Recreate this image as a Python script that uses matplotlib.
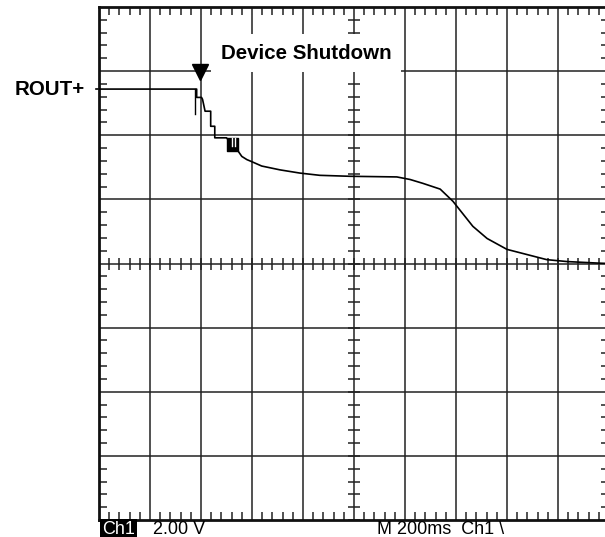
import matplotlib.pyplot as plt
import numpy as np

# Scope trace (divisions: x 0..10, y -4..4, centre line at 0)
trace_x = [0, 1.915, 1.915, 2.01, 2.03, 2.08, 2.19, 2.19, 2.27, 2.27, 2.50,
           2.73, 2.80, 2.90, 2.99, 3.19, 3.55, 3.94, 4.33, 4.92, 5.84,
           6.10, 6.35, 6.69, 6.94, 7.14, 7.33, 7.61, 8.00, 8.39, 8.78,
           9.18, 9.82, 10.0]
trace_y = [2.72, 2.72, 2.59, 2.59, 2.56, 2.375, 2.375, 2.14, 2.14, 1.96, 1.96,
           1.75, 1.67, 1.62, 1.59, 1.52, 1.46, 1.41, 1.375, 1.36, 1.35,
           1.31, 1.25, 1.16, 0.97, 0.77, 0.58, 0.39, 0.22, 0.14, 0.06,
           0.03, 0.005, 0.0]

# glitch spike and noisy burst
spike_x = [1.88, 1.88]
spike_y = [2.72, 2.33]
burst_x = [2.50, 2.73]
burst_lo = 1.75
burst_hi = 1.96
gap_x = [2.60, 2.67]
gap_y = [1.96, 1.83]

shutdown_x = 1.98
shutdown_y = 2.98
level_y = 2.72

fig = plt.figure(figsize=(6.05, 5.37), dpi=100)
ax = fig.add_axes([99 / 605, 1 - 520 / 537, 510 / 605, 513 / 537])
ax.set_xlim(0, 10)
ax.set_ylim(-4, 4)

# graticule
for gx in range(1, 10):
    ax.axvline(gx, color='#222222', lw=1.1, zorder=1)
for gy in range(-3, 4):
    ax.axhline(gy, color='#222222', lw=1.1, zorder=1)

ax.set_xticks(np.arange(0, 10.01, 1))
ax.set_yticks(np.arange(-4, 4.01, 1))
ax.set_xticks(np.arange(0, 10.01, 0.2), minor=True)
ax.set_yticks(np.arange(-4, 4.01, 0.2), minor=True)
ax.tick_params(which='both', direction='in', top=True, right=True,
               labelbottom=False, labelleft=False, color='#222222')
ax.tick_params(which='major', length=0)
ax.tick_params(which='minor', length=6, width=1.1)
for s in ax.spines.values():
    s.set_linewidth(2)
    s.set_color('#111111')

# centre cross ticks
cx = np.arange(0, 10.01, 0.2)
cy = np.arange(-4, 4.01, 0.2)
ax.plot(cx, np.zeros_like(cx), ls='none', marker='|', ms=9, mew=1.1,
        color='#222222', zorder=2)
ax.plot(np.full_like(cy, 5), cy, ls='none', marker='_', ms=9, mew=1.1,
        color='#222222', zorder=2)

# trace
ax.plot(trace_x, trace_y, color='black', lw=1.2, zorder=3)
ax.plot(spike_x, spike_y, color='black', lw=1.0, zorder=3)
ax.fill_between(burst_x, burst_lo, burst_hi, color='black', zorder=3)
for gx in gap_x:
    ax.plot([gx, gx], gap_y, color='white', lw=1.0, zorder=4)

# level marker and shutdown arrow
ax.plot([-0.06, 0], [level_y, level_y], color='black', lw=1.2, clip_on=False)
ax.plot(shutdown_x, shutdown_y, marker='v', ms=11, color='black', zorder=5)

ax.text(4.06, 3.28, 'Device Shutdown', fontsize=14.8, fontweight='bold',
        family='Liberation Sans', ha='center', va='center', zorder=6,
        bbox=dict(boxstyle='square,pad=0.45', fc='white', ec='none'))
ax.text(-0.27, level_y, 'ROUT+', fontsize=14.8, fontweight='bold',
        family='Liberation Sans', ha='right', va='center', clip_on=False)

# scope readout
fy = 1 - 529 / 537
fig.text(102 / 605, fy, 'Ch1', color='white', fontsize=13,
         family='Liberation Sans', va='center',
         bbox=dict(boxstyle='square,pad=0.1', fc='black', ec='none'))
fig.text(153 / 605, fy, '2.00 V', fontsize=13,
         family='Liberation Sans', va='center')
fig.text(377 / 605, fy, 'M 200ms  Ch1 \\', fontsize=13,
         family='Liberation Sans', va='center')

fig.savefig('out.png', dpi=100)
